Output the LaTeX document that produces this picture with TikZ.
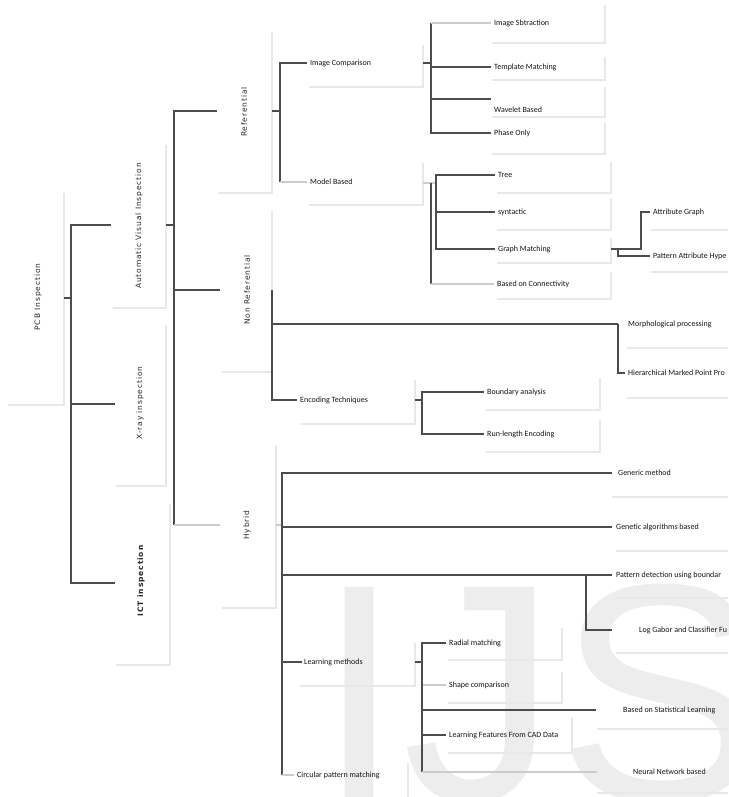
\documentclass[tikz,border=0pt]{standalone}
\usepackage{fontspec}
\setmainfont{Carlito}
\newfontfamily\rotfont[LetterSpace=12]{DejaVu Sans}
\newfontfamily\markfont{Liberation Sans}
\begin{document}
\begin{tikzpicture}[x=1pt, y=-1pt]
\tikzstyle{conn}=[draw=gray!60!black, line width=1.3pt]
\tikzstyle{connlt}=[draw=gray!40, line width=1.3pt]
\tikzstyle{frame}=[draw=gray!18, line width=1.5pt]
\tikzstyle{lbl}=[anchor=west, inner sep=3pt, font=\fontsize{8}{9}\selectfont, text=gray!15!black]
\tikzstyle{vlbl}=[rotate=90, inner sep=1pt, font=\rotfont\fontsize{7.5}{8}\selectfont, text=gray!30!black]
\tikzstyle{wmark}=[anchor=base west, inner sep=0pt, text=gray!14, font=\markfont\fontsize{310}{310}\selectfont]
\useasboundingbox (0,0) rectangle (728,797);
\clip (0,0) rectangle (728,797);
\node[wmark] (wm) at (316,800) {IJS};
\draw[frame] (64,193) |- (8,405);
\draw[frame] (166,145) |- (113,308);
\draw[frame] (166,325) |- (116,486);
\draw[frame] (170,504) |- (116,665);
\draw[frame] (272,32) |- (218,193);
\draw[frame] (272,211) |- (222,372);
\draw[frame] (276,446) |- (222,608);
\draw[frame] (423,45) |- (309,87);
\draw[frame] (423,163) |- (309,205);
\draw[frame] (605,5) |- (492,43);
\draw[frame] (605,57) |- (492,80);
\draw[frame] (605,87) |- (492,117);
\draw[frame] (605,123) |- (492,154);
\draw[frame] (611,162) |- (497,193);
\draw[frame] (611,199) |- (497,230);
\draw[frame] (611,238) |- (497,263);
\draw[frame] (611,272) |- (497,299);
\draw[frame] (651,230) -- (728,230);
\draw[frame] (651,272) -- (728,272);
\draw[frame] (627,348) -- (728,348);
\draw[frame] (627,398) -- (728,398);
\draw[frame] (415,380) |- (301,424);
\draw[frame] (600,378) |- (486,410);
\draw[frame] (600,420) |- (486,452);
\draw[frame] (612,497) -- (728,497);
\draw[frame] (616,551) -- (728,551);
\draw[frame] (616,598) -- (728,598);
\draw[frame] (616,653) -- (728,653);
\draw[frame] (415,643) |- (300,686);
\draw[frame] (562,628) |- (448,660);
\draw[frame] (562,672) |- (448,703);
\draw[frame] (572,718) |- (448,753);
\draw[frame] (597,729) -- (728,729);
\draw[frame] (597,793) -- (728,793);
\draw[frame] (408,763) -- (408,797);

\node[vlbl] (pcb) at (38,297) {PCB Inspection};
\node[vlbl] (avi) at (139,226) {Automatic Visual Inspection};
\node[vlbl] (xray) at (140,403) {X-ray inspection};
\node[vlbl, font=\rotfont\bfseries\fontsize{7.5}{8}\selectfont] (ict) at (141,581) {ICT inspection};
\node[vlbl] (ref) at (244,112) {Referential};
\node[vlbl] (nref) at (247,290) {Non Referential};
\node[vlbl] (hyb) at (247,525) {Hybrid};

\node[lbl] (ic) at (307,63) {Image Comparison};
\node[lbl] (mb) at (307,182) {Model Based};
\node[lbl] (isub) at (491,23) {Image Sbtraction};
\node[lbl] (tm) at (491,67) {Template Matching};
\node[lbl] (wb) at (491,110) {Wavelet Based};
\node[lbl] (po) at (491,133) {Phase Only};
\node[lbl] (tree) at (495,175) {Tree};
\node[lbl] (syn) at (495,212) {syntactic};
\node[lbl] (gm) at (495,249) {Graph Matching};
\node[lbl] (boc) at (494,284) {Based on Connectivity};
\node[lbl] (ag) at (650,212) {Attribute Graph};
\node[lbl] (pah) at (650,256) {Pattern Attribute Hype};
\node[lbl, inner xsep=10pt] (mp) at (618,324) {Morphological processing};
\node[lbl] (hmp) at (625,373) {Hierarchical Marked Point Pro};
\node[lbl] (et) at (297,400) {Encoding Techniques};
\node[lbl] (ba) at (484,392) {Boundary analysis};
\node[lbl] (rle) at (484,434) {Run-length Encoding};
\node[lbl, inner xsep=6pt] (gen) at (612,473) {Generic method};
\node[lbl, inner xsep=4pt] (gab) at (612,527) {Genetic algorithms based};
\node[lbl, inner xsep=4pt] (pdb) at (612,575) {Pattern detection using boundar};
\node[lbl, inner xsep=27pt] (lgc) at (612,630) {Log Gabor and Classifier Fu};
\node[lbl, inner xsep=2pt] (lm) at (302,662) {Learning methods};
\node[lbl] (cpm) at (294,775) {Circular pattern matching};
\node[lbl] (rm) at (446,643) {Radial matching};
\node[lbl] (sc) at (446,685) {Shape comparison};
\node[lbl, inner xsep=27pt] (bsl) at (596,710) {Based on Statistical Learning};
\node[lbl] (lf) at (446,735) {Learning Features From CAD Data};
\node[lbl, inner xsep=36pt] (nn) at (597,772) {Neural Network based};

\coordinate (pcb-o) at (64,298);
\coordinate (j0) at (71,298);
\coordinate (avi-i) at (111,225);
\coordinate (xray-i) at (115,404);
\coordinate (ict-i) at (115,583);
\draw[conn] (pcb-o) -- (j0);
\draw[conn] (j0) |- (avi-i);
\draw[conn] (j0) |- (xray-i);
\draw[conn] (j0) |- (ict-i);

\coordinate (avi-o) at (166,225);
\coordinate (j1) at (174,225);
\coordinate (ref-i) at (217,111);
\coordinate (nref-i) at (220,290);
\coordinate (hyb-i) at (220,525);
\draw[conn] (avi-o) -- (j1) |- (ref-i);
\draw[conn] (j1) |- (nref-i);
\draw[conn] (j1) -- (j1 |- hyb-i);
\draw[connlt] (j1 |- hyb-i) -- (hyb-i);

\coordinate (ref-o) at (272,111);
\coordinate (j2) at (280,111);
\draw[conn] (ref-o) -- (j2) |- (ic.west);
\draw[conn] (j2) -- (j2 |- mb.west);
\draw[connlt] (j2 |- mb.west) -- (mb.west);

\coordinate (ic-o) at (423,63);
\coordinate (j3) at (431,63);
\coordinate (wb-i) at (491,99);
\draw[conn] (ic-o) -- (j3) |- (tm.west);
\draw[conn] (j3) -- (j3 |- isub.west);
\draw[connlt] (j3 |- isub.west) -- (isub.west);
\draw[conn] (j3) |- (wb-i);
\draw[conn] (j3) |- (po.west);

\coordinate (mb-o) at (423,183);
\coordinate (j4) at (431,183);
\coordinate (j5) at (436,183);
\draw[connlt] (mb-o) -- (j5);
\draw[conn] (j5) |- (tree.west);
\draw[conn] (j5) |- (syn.west);
\draw[conn] (j5) |- (gm.west);
\draw[conn] (j4) -- (j4 |- boc.west);
\draw[connlt] (j4 |- boc.west) -- (boc.west);

\coordinate (gm-o) at (611,249);
\coordinate (j6) at (641,249);
\coordinate (j7) at (618,249);
\draw[conn] (gm-o) -- (j6) |- (ag.west);
\draw[conn] (j7) |- (pah.west);

\coordinate (j8) at (272,290);
\coordinate (j9) at (618,324);
\draw[conn] (j8) |- (mp.west);
\draw[conn] (j9) |- (hmp.west);
\draw[conn] (j8) |- (et.west);

\coordinate (et-o) at (415,400);
\coordinate (j10) at (422,400);
\draw[conn] (et-o) -- (j10) |- (ba.west);
\draw[conn] (j10) |- (rle.west);

\coordinate (hyb-o) at (276,525);
\coordinate (j11) at (282,525);
\coordinate (j12) at (586,575);
\draw[connlt] (hyb-o) -- (j11);
\draw[conn] (j11) |- (gen.west);
\draw[conn] (j11) |- (gab.west);
\draw[conn] (j11) |- (pdb.west);
\draw[conn] (j11) |- (lm.west);
\draw[conn] (j11) -- (j11 |- cpm.west);
\draw[connlt] (j11 |- cpm.west) -- (cpm.west);
\draw[conn] (j12) |- (lgc.west);

\coordinate (lm-o) at (415,662);
\coordinate (j13) at (422,662);
\draw[conn] (lm-o) -- (j13) |- (rm.west);
\draw[connlt] (j13 |- sc.west) -- (sc.west);
\draw[conn] (j13) |- (bsl.west);
\draw[conn] (j13) |- (lf.west);
\draw[conn] (j13) -- (j13 |- nn.west);
\draw[connlt] (j13 |- nn.west) -- (nn.west);
\end{tikzpicture}
\end{document}
